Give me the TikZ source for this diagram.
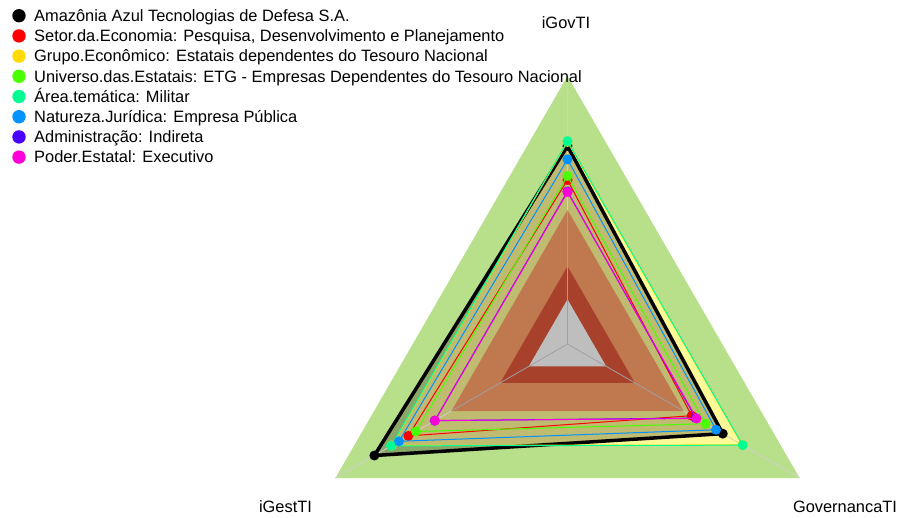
\documentclass[tikz,border=0pt]{standalone}
\usepackage{fontspec}
\setmainfont{Liberation Sans}
\usetikzlibrary{calc}
\definecolor{bggreen}{HTML}{B8E08B}
\definecolor{bgyellow}{HTML}{FFFA96}
\definecolor{bgbrown}{HTML}{C0784F}
\definecolor{bgbrick}{HTML}{A8412B}
\definecolor{bggray}{HTML}{BEBEBE}
\definecolor{axisgray}{HTML}{D0D0D0}
\definecolor{axisdark}{HTML}{A0A0A0}
\definecolor{sred}{HTML}{FF0000}
\definecolor{syellow}{HTML}{FFDB00}
\definecolor{sgreen}{HTML}{49FF00}
\definecolor{steal}{HTML}{00FF92}
\definecolor{sblue}{HTML}{0092FF}
\definecolor{spurple}{HTML}{4900FF}
\definecolor{smagenta}{HTML}{FF00DB}
\tikzset{
  serline/.style={draw=#1, line width=1pt, line join=round},
  serdot/.style={fill=#1},
  legdot/.style={fill=#1},
  legtext/.style={anchor=base west, inner sep=0pt, font=\fontsize{16.4}{19}\selectfont},
  axlabel/.style={anchor=base, inner sep=0pt, font=\fontsize{16.4}{19}\selectfont},
}
\newcommand\mkser[4]{%
  \coordinate (#1-t) at ($(C)+(270:{#2*268})$);
  \coordinate (#1-l) at ($(C)+(150:{#3*268})$);
  \coordinate (#1-r) at ($(C)+(30:{#4*268})$);}
\newcommand\drawser[2]{%
  \draw[serline=#2] (#1-t) -- (#1-l) -- (#1-r) -- cycle;
  \foreach \p in {t,l,r} \fill[serdot=#2] (#1-\p) circle (5);}
\begin{document}
\begin{tikzpicture}[x=1pt,y=-1pt]
\useasboundingbox (0,0) rectangle (900,517);
\fill[white] (0,0) rectangle (900,517);
\coordinate (C) at (567.5,344);
% series values: iGovTI (top), iGestTI (left), GovernancaTI (right)
\mkser{blk}{0.739}{0.832}{0.669}
\mkser{red}{0.612}{0.686}{0.535}
\mkser{yel}{0.754}{0.757}{0.753}
\mkser{grn}{0.627}{0.653}{0.595}
\mkser{tea}{0.757}{0.760}{0.755}
\mkser{blu}{0.689}{0.726}{0.640}
\mkser{pur}{0.569}{0.572}{0.553}
\mkser{mag}{0.567}{0.571}{0.556}
\mkser{b1}{1}{1}{1}
\mkser{b2}{0.5}{0.5}{0.5}
\mkser{b3}{0.29}{0.29}{0.29}
\mkser{b4}{0.1667}{0.1667}{0.1667}
% background bands
\fill[bggreen] (b1-t) -- (b1-l) -- (b1-r) -- cycle;
\fill[bgyellow] (yel-t) -- (yel-l) -- (yel-r) -- cycle;
\fill[black, opacity=0.25] (blk-t) -- (blk-l) -- (blk-r) -- cycle;
\fill[bgbrown] (b2-t) -- (b2-l) -- (b2-r) -- cycle;
\fill[bgbrick] (b3-t) -- (b3-l) -- (b3-r) -- cycle;
\fill[bggray] (b4-t) -- (b4-l) -- (b4-r) -- cycle;
% axes
\foreach \p in {t,l,r} {
  \draw[axisgray, line width=0.8pt] (b2-\p) -- (b1-\p);
  \draw[axisdark, line width=0.8pt] (C) -- (b2-\p);
}
% series
\draw[draw=black, line width=3.5pt, line join=round] (blk-t) -- (blk-l) -- (blk-r) -- cycle;
\foreach \p in {t,l,r} \fill[black] (blk-\p) circle (5);
\drawser{red}{sred}
\drawser{yel}{syellow}
\drawser{grn}{sgreen}
\drawser{tea}{steal}
\drawser{blu}{sblue}
\drawser{pur}{spurple}
\drawser{mag}{smagenta}
% axis labels
\node[axlabel] (lgov) at (566,28) {iGovTI};
\node[axlabel] (lgest) at (285.5,512.5) {iGestTI};
\node[axlabel] (lgovern) at (845,512.5) {GovernancaTI};
% legend
\foreach \y/\c/\t [count=\i] in {
  15.7/black/{Amazônia Azul Tecnologias de Defesa S.A.},
  35.9/sred/{Setor.da.Economia: Pesquisa, Desenvolvimento e Planejamento},
  56.1/syellow/{Grupo.Econômico: Estatais dependentes do Tesouro Nacional},
  76.3/sgreen/{Universo.das.Estatais: ETG - Empresas Dependentes do Tesouro Nacional},
  96.5/steal/{Área.temática: Militar},
  116.7/sblue/{Natureza.Jurídica: Empresa Pública},
  136.9/spurple/{Administração: Indireta},
  157.1/smagenta/{Poder.Estatal: Executivo}}{
  \fill[legdot=\c] (19,\y) circle (6.7);
  \node[legtext] (leg\i) at (34,\y+5.8) {\t};
}
\end{tikzpicture}
\end{document}
